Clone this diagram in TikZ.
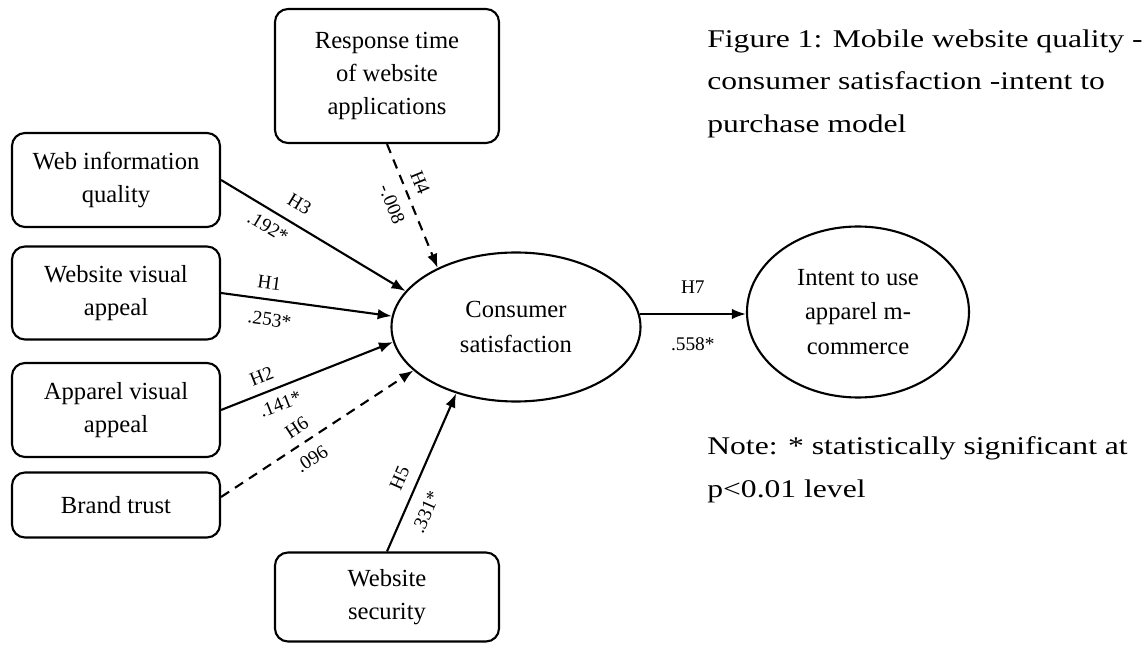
\documentclass[tikz,border=0pt]{standalone}
\usepackage{fontspec}
\setmainfont{Liberation Serif}
\newfontfamily\capfont[FakeStretch=1.24]{Liberation Serif}
\usetikzlibrary{arrows.meta,shapes.geometric,positioning}

\begin{document}
\begin{tikzpicture}[x=0.2mm,y=-0.2mm,
    box/.style={draw,line width=1.2pt,rounded corners=2.6mm,align=center,minimum width=41.6mm,font=\fontsize{14}{19}\selectfont},
    oval/.style={draw,line width=1.2pt,ellipse,inner sep=0pt,align=center,font=\fontsize{14}{19.5}\selectfont},
    link/.style={line width=1.2pt,-{Latex[length=8pt,width=6pt]}},
    weak/.style={link,dash pattern=on 5.5pt off 4pt},
    hyp/.style={font=\fontsize{11}{13}\selectfont,sloped,inner sep=2pt},
    caption/.style={anchor=north west,align=left,inner sep=0pt,font=\capfont\fontsize{14.5}{24.4}\selectfont}]
    \useasboundingbox (0,0) rectangle (1147,645);
    \node[box,minimum height=18.8mm] (info) at (116,180) {Web information\\quality};
    \node[box,minimum height=18.6mm] (visual) at (116,293) {Website visual\\appeal};
    \node[box,minimum height=18.8mm] (apparel) at (116,410) {Apparel visual\\appeal};
    \node[box,minimum height=13mm] (trust) at (116,505) {Brand trust};
    \node[box,minimum width=44.8mm,minimum height=26.8mm] (resp) at (387,76) {Response time\\of website\\applications};
    \node[box,minimum width=44.8mm,minimum height=17.8mm] (secur) at (387,597) {Website\\security};
    \node[oval,minimum width=49.8mm,minimum height=29.8mm] (sat) at (516,327) {Consumer\\satisfaction};
    \node[oval,minimum width=44.4mm,minimum height=34.2mm] (intent) at (858,312) {Intent to use\\apparel m-\\commerce};
    \draw[link] (info.east) -- node[hyp,pos=0.37,above=5pt] {H3} node[hyp,pos=0.3,below=3pt] {.192*} (sat.162);
    \draw[link] (visual.east) -- node[hyp,pos=0.27,above=3pt] {H1} node[hyp,pos=0.3,below=5pt] {.253*} (sat.175);
    \draw[link] (apparel.east) -- node[hyp,pos=0.27,above=3pt] {H2} node[hyp,pos=0.31,below=3pt] {.141*} (sat.187.5);
    \draw[weak] ([yshift=1.6mm]trust.east) -- node[hyp,pos=0.44,above=3pt] {H6} node[hyp,pos=0.42,below=4pt] {.096} (sat.203.5);
    \draw[weak] (resp.south) -- node[hyp,pos=0.36,above=3pt] {H4} node[hyp,pos=0.43,below=4pt] {-.008} (sat.143.4);
    \draw[link] (secur.north) -- node[hyp,pos=0.42,above=4pt] {H5} node[hyp,pos=0.3,below=5pt] {.331*} (sat.228);
    \draw[link] (sat.6) -- node[hyp,above=9pt] {H7} node[hyp,below=11pt] {.558*} (sat.6 -| intent.west);
    \node[caption] (title) at (707,29) {Figure 1: Mobile website quality -\\consumer satisfaction -intent to\\purchase model};
    \node[caption] (note) at (707,436) {Note: * statistically significant at\\p<0.01 level};
\end{tikzpicture}
\end{document}
